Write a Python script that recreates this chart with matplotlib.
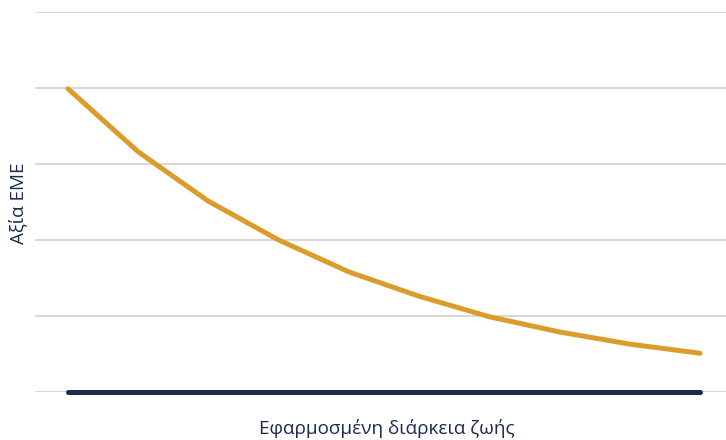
import numpy as np
import matplotlib
matplotlib.use("Agg")
import matplotlib.pyplot as plt

plt.rcParams['font.family'] = ['Open Sans', 'DejaVu Sans']

# DATA
periods = np.arange(10)
value_orange = [3.99, 3.16, 2.51, 2.0, 1.58, 1.26, 0.99, 0.79, 0.63, 0.51]
value_navy = [0, 0, 0, 0, 0, 0, 0, 0, 0, 0]
x_label = "Εφαρμοσμένη διάρκεια ζωής"
y_label = "Αξία EME"

# ------PLOT-------
fig = plt.figure(figsize=(7.26, 4.40), dpi=100)
ax = fig.add_axes([35/726, 48/440, 691/726, 380/440])

for y in range(0, 6):
    ax.axhline(y, color="#cfd1d1", linewidth=1.2, zorder=0)

ax.plot(periods, value_navy, color="#1b2b50", linewidth=3.6, solid_capstyle="round", clip_on=False, zorder=3)
ax.plot(periods, value_orange, color="#db9c2c", linewidth=3.6, solid_capstyle="round", clip_on=False, zorder=3)

ax.set_xlim(-0.47, 9.37)
ax.set_ylim(0, 5)
ax.set_xticks([])
ax.set_yticks([])
for s in ax.spines.values():
    s.set_visible(False)

fig.text(387/726, 1 - 428/440, x_label, ha="center", va="center", fontsize=13.6, color="#1b2b50")
fig.text(18/726, 1 - 203/440, y_label, ha="center", va="center", rotation=90, fontsize=13.6, color="#1b2b50")

fig.savefig("out.png", dpi=100)
